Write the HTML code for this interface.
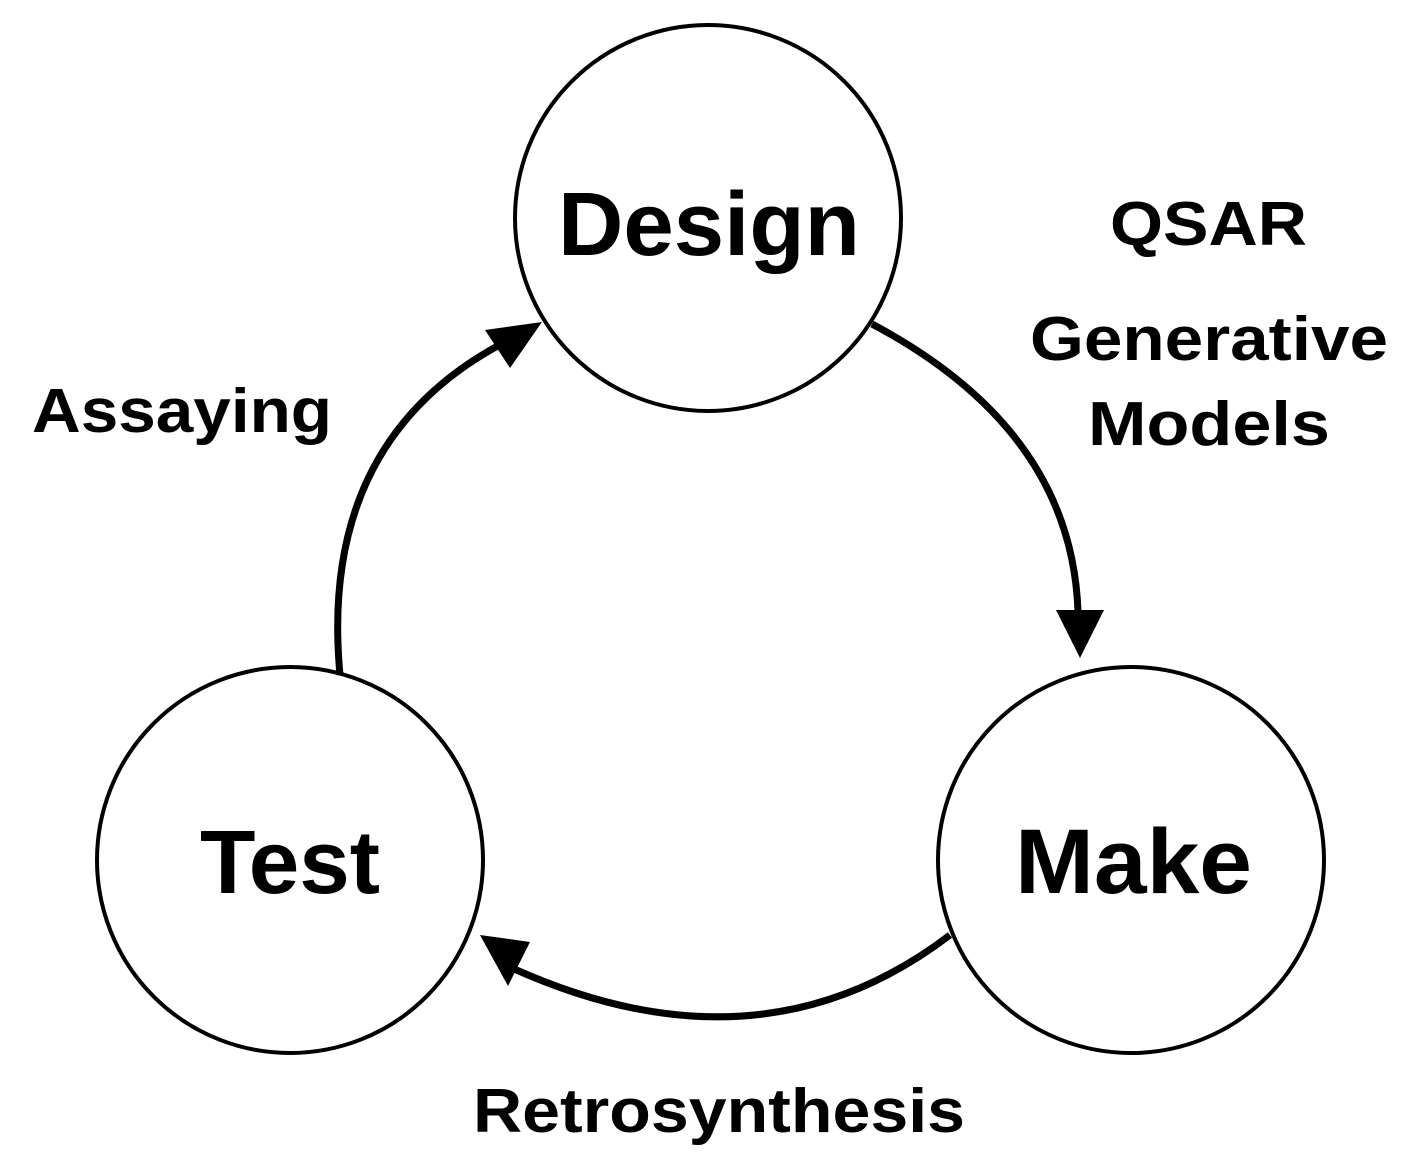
<!DOCTYPE html>
<html><head><meta charset="utf-8"><style>html,body{margin:0;padding:0;background:#fff}</style></head>
<body>
<svg width="1416" height="1168" viewBox="0 0 1416 1168" xmlns="http://www.w3.org/2000/svg" font-family="Liberation Sans, Arial, sans-serif" font-weight="bold">
<rect width="1416" height="1168" fill="#fff"/>
<g fill="none" stroke="#000" stroke-width="4">
<circle cx="708" cy="218" r="193"/>
<circle cx="290" cy="860" r="193"/>
<circle cx="1131" cy="860" r="193"/>
</g>
<g fill="none" stroke="#000" stroke-width="7">
<path d="M872,324 Q1072,430 1078,612"/>
<path d="M950,935 Q760,1080 512,968"/>
<path d="M340,675 Q318,440 505,342"/>
</g>
<g fill="#000">
<polygon points="1080,658 1056,610 1104,610"/>
<polygon points="480,935 530,942 508,986"/>
<polygon points="542,322 485,330 510,368"/>
</g>
<g fill="#000">
<text x="558" y="255" font-size="90" textLength="302" lengthAdjust="spacingAndGlyphs">Design</text>
<text x="200" y="893" font-size="90" textLength="180" lengthAdjust="spacingAndGlyphs">Test</text>
<text x="1015" y="893" font-size="92" textLength="237" lengthAdjust="spacingAndGlyphs">Make</text>
<text x="1110" y="245" font-size="62" textLength="197" lengthAdjust="spacingAndGlyphs">QSAR</text>
<text x="1030" y="360" font-size="62" textLength="358" lengthAdjust="spacingAndGlyphs">Generative</text>
<text x="1088" y="445" font-size="62" textLength="242" lengthAdjust="spacingAndGlyphs">Models</text>
<text x="32" y="432" font-size="62" textLength="300" lengthAdjust="spacingAndGlyphs">Assaying</text>
<text x="473" y="1132" font-size="62" textLength="492" lengthAdjust="spacingAndGlyphs">Retrosynthesis</text>
</g>
</svg>
</body></html>
